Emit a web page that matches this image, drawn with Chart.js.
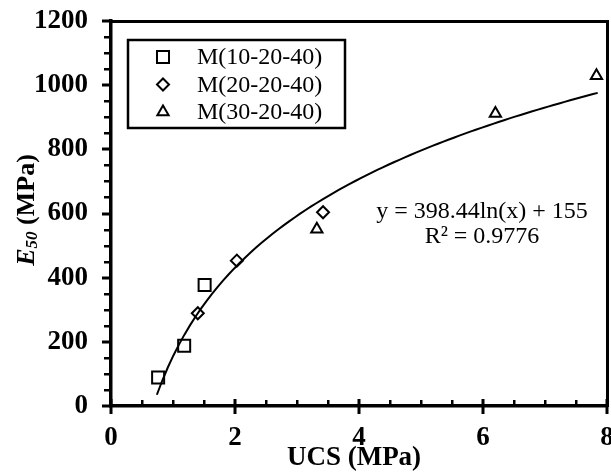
<!DOCTYPE html>
<html>
<head>
<meta charset="utf-8">
<script src="https://cdn.jsdelivr.net/npm/chart.js@4.4.0/dist/chart.umd.min.js"></script>
<style>
  html, body { margin: 0; padding: 0; background: #fff; }
  #wrap { width: 611px; height: 474px; }
</style>
</head>
<body>
<div id="wrap"><canvas id="chart" width="611" height="474"></canvas></div>
<script>
// UCS (MPa) vs E50 (MPa) for the three mixes
const ucsM10 = [0.76, 1.18, 1.51];
const e50M10 = [89, 188, 377];
const ucsM20 = [1.40, 2.03, 3.42];
const e50M20 = [289, 453, 604];
const ucsM30 = [3.32, 6.20, 7.83];
const e50M30 = [551, 912, 1029];
const seriesNames = ['M(10-20-40)', 'M(20-20-40)', 'M(30-20-40)'];

// logarithmic fit y = a ln(x) + b
const fitA = 398.44;
const fitB = 155;
const fitR2 = 0.9776;
const fitRange = [0.74, 7.85];

const xTickLabels = [0, 2, 4, 6, 8];
const yTickLabels = [0, 200, 400, 600, 800, 1000, 1200];

const SERIF = '"Liberation Serif", "Times New Roman", serif';

const toPoints = (xs, ys) => xs.map((x, i) => ({ x: x, y: ys[i] }));

const fitPoints = [];
for (let i = 0; i <= 80; i++) {
  const x = fitRange[0] + (fitRange[1] - fitRange[0]) * i / 80;
  fitPoints.push({ x: x, y: fitA * Math.log(x) + fitB });
}

const markerStyles = [
  { pointStyle: 'rect', radius: 8.5 },
  { pointStyle: 'rectRot', radius: 6 },
  { pointStyle: 'triangle', radius: 6.5 },
];

function drawMarker(ctx, style, x, y) {
  ctx.save();
  ctx.strokeStyle = '#000';
  ctx.fillStyle = '#fff';
  ctx.lineWidth = 2;
  if (Chart.helpers && Chart.helpers.drawPoint) {
    Chart.helpers.drawPoint(ctx, { pointStyle: style.pointStyle, radius: style.radius, borderWidth: 2, rotation: 0 }, x, y);
  }
  ctx.restore();
}

// tick marks, legend, fit label and axis titles
const decorations = {
  id: 'decorations',
  afterDraw(chart) {
    const ctx = chart.ctx;
    const area = chart.chartArea;
    const xs = chart.scales.x, ys = chart.scales.y;
    ctx.save();
    ctx.fillStyle = '#000';

    // x ticks: majors cross the axis, minors point inward
    for (let v = 0; v <= 8; v += 0.5) {
      const px = Math.round(xs.getPixelForValue(v));
      if (v % 2 === 0) {
        ctx.fillRect(px - 1.5, area.bottom - 7, 3, 15);
      } else {
        ctx.fillRect(px - 1, area.bottom - 6, 2.5, 6);
      }
    }
    // y ticks: all outward
    for (let v = 0; v <= 1200; v += 50) {
      const py = Math.round(ys.getPixelForValue(v));
      if (v % 200 === 0) {
        ctx.fillRect(area.left - 9, py - 1.5, 9, 3);
      } else {
        ctx.fillRect(area.left - 7, py - 1, 7, 2.5);
      }
    }

    // legend
    const lx = area.left + 17, ly = area.top + 19;
    ctx.strokeStyle = '#000';
    ctx.lineWidth = 2.5;
    ctx.strokeRect(lx, ly, 217, 88);
    ctx.font = '24px ' + SERIF;
    ctx.textBaseline = 'middle';
    ctx.textAlign = 'left';
    seriesNames.forEach((name, i) => {
      const ry = ly + 17 + i * 27.5;
      drawMarker(ctx, markerStyles[i], lx + 35, ry);
      ctx.fillStyle = '#000';
      ctx.fillText(name, lx + 69, ry + 1);
    });

    // fit equation
    ctx.fillStyle = '#000';
    ctx.textAlign = 'center';
    ctx.textBaseline = 'alphabetic';
    ctx.font = '24px ' + SERIF;
    ctx.fillText('y = ' + fitA + 'ln(x) + ' + fitB, 482, 218);
    ctx.fillText('R² = ' + fitR2, 482, 243);

    // x title
    ctx.font = 'bold 27px ' + SERIF;
    ctx.fillText('UCS (MPa)', 354, 465);

    // y title with subscript
    ctx.translate(27, 210);
    ctx.rotate(-Math.PI / 2);
    const fE = 'italic bold 26px ' + SERIF;
    const fSub = 'italic bold 17px ' + SERIF;
    const fRest = 'bold 26px ' + SERIF;
    ctx.font = fE; const wE = ctx.measureText('E').width;
    ctx.font = fSub; const wS = ctx.measureText('50').width;
    ctx.font = fRest; const wR = ctx.measureText(' (MPa)').width;
    let tx = -(wE + wS + wR) / 2;
    ctx.textAlign = 'left';
    ctx.textBaseline = 'middle';
    ctx.font = fE; ctx.fillText('E', tx, 0); tx += wE;
    ctx.font = fSub; ctx.fillText('50', tx, 6); tx += wS;
    ctx.font = fRest; ctx.fillText(' (MPa)', tx, 0);
    ctx.restore();
  }
};

const pointDataset = (label, data, style) => ({
  type: 'scatter',
  label: label,
  data: data,
  pointStyle: style.pointStyle,
  pointRadius: style.radius,
  pointHoverRadius: style.radius,
  pointBorderWidth: 2,
  pointBorderColor: '#000',
  pointBackgroundColor: '#fff',
  showLine: false,
  clip: false,
});

// bare axes used only for the top and right edges of the box
const edgeAxis = (position, min, max) => ({
  type: 'linear',
  position: position,
  min: min,
  max: max,
  ticks: { display: false },
  grid: { display: true, drawOnChartArea: false, drawTicks: false },
  border: { display: true, color: '#000', width: 3 },
});

new Chart(document.getElementById('chart'), {
  type: 'scatter',
  data: {
    datasets: [
      {
        type: 'line',
        label: 'fit',
        data: fitPoints,
        borderColor: '#000',
        borderWidth: 2,
        pointRadius: 0,
        tension: 0,
        fill: false,
      },
      pointDataset(seriesNames[0], toPoints(ucsM10, e50M10), markerStyles[0]),
      pointDataset(seriesNames[1], toPoints(ucsM20, e50M20), markerStyles[1]),
      pointDataset(seriesNames[2], toPoints(ucsM30, e50M30), markerStyles[2]),
    ],
  },
  options: {
    responsive: false,
    animation: false,
    layout: { autoPadding: false, padding: { top: 21, right: 4, left: 0, bottom: 0 } },
    plugins: {
      legend: { display: false },
      tooltip: { enabled: false },
    },
    scales: {
      x: {
        type: 'linear',
        min: 0,
        max: 8,
        afterBuildTicks: (s) => { s.ticks = xTickLabels.map((v) => ({ value: v })); },
        ticks: {
          color: '#000',
          font: { family: SERIF, size: 27, weight: 'bold' },
          padding: 8,
          maxRotation: 0,
          autoSkip: false,
          callback: (v) => String(v),
        },
        grid: { display: true, drawOnChartArea: false, tickLength: 8, tickColor: 'rgba(0,0,0,0)' },
        border: { color: '#000', width: 3.5 },
        afterFit: (s) => { s.height = 68; s.paddingLeft = 0; s.paddingRight = 0; },
      },
      y: {
        type: 'linear',
        min: 0,
        max: 1200,
        afterBuildTicks: (s) => { s.ticks = yTickLabels.map((v) => ({ value: v })); },
        ticks: {
          color: '#000',
          font: { family: SERIF, size: 27, weight: 'bold' },
          padding: 15,
          autoSkip: false,
          callback: (v) => String(v),
        },
        grid: { display: true, drawOnChartArea: false, tickLength: 8, tickColor: 'rgba(0,0,0,0)' },
        border: { color: '#000', width: 3.5 },
        afterFit: (s) => { s.width = 111; s.paddingTop = 0; s.paddingBottom = 0; },
      },
      xTop: Object.assign(edgeAxis('top', 0, 8), { afterFit: (s) => { s.height = 0; s.paddingLeft = 0; s.paddingRight = 0; } }),
      yRight: Object.assign(edgeAxis('right', 0, 1200), { afterFit: (s) => { s.width = 0; s.paddingTop = 0; s.paddingBottom = 0; } }),
    },
  },
  plugins: [decorations],
});
</script>
</body>
</html>
